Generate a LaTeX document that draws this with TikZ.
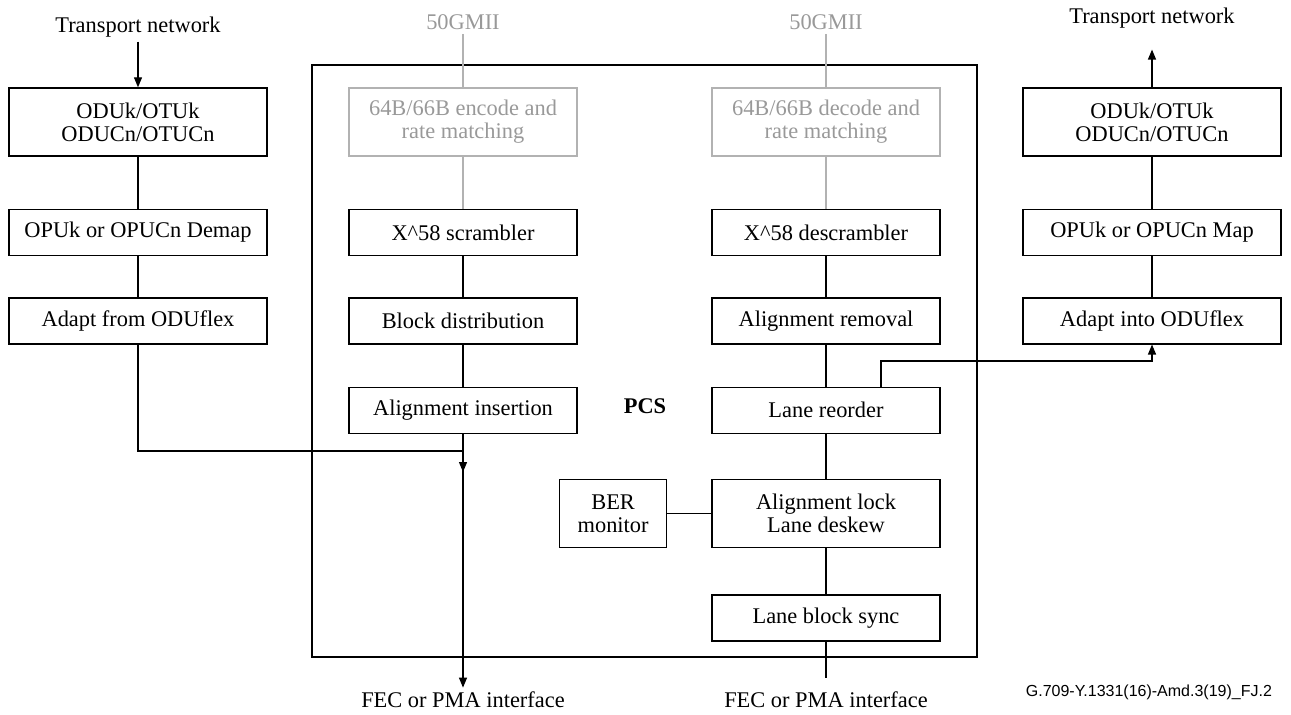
\documentclass[tikz,border=0pt]{standalone}
\usepackage{fontspec}
\setmainfont{Liberation Serif}
\newfontfamily\tagfont{Liberation Sans}
\usetikzlibrary{positioning,arrows.meta}

\begin{document}
\begin{tikzpicture}[
  x=0.5pt, y=-0.5pt,
  node distance=20.5pt,
  every node/.style={font=\fontsize{11.2}{11.5}\selectfont},
  box/.style={rectangle, draw, line width=0.7pt, minimum width=114pt,
              minimum height=23pt, align=center, inner sep=1pt},
  widebox/.style={box, minimum width=129pt},
  tallbox/.style={minimum height=34pt},
  greybox/.style={box, draw=black!30, text=black!40},
  lbl/.style={inner sep=2pt},
  link/.style={line width=0.6pt},
  greylink/.style={link, draw=black!30},
  arrow/.style={link, -{Triangle[length=5pt, width=4pt]}}
]
  \useasboundingbox (0,0) rectangle (1291,714);

  % PCS frame
  \node[draw, line width=0.7pt, minimum width=332.5pt, minimum height=296pt,
        inner sep=0pt] (pcs) at (644.5,361) {};
  \node[font=\fontsize{11.2}{11.5}\selectfont\bfseries] (pcslbl) at (645,406) {PCS};

  % left column
  \node[lbl] (tnl) at (138,27) {Transport network};
  \node[widebox, tallbox] (odul) at (138,122) {ODUk/OTUk\\ODUCn/OTUCn};
  \node[widebox, below=26pt of odul] (demap) {OPUk or OPUCn Demap};
  \node[widebox, below=of demap] (adaptl) {Adapt from ODUflex};

  % transmit side of the PCS
  \node[lbl, text=black!40] (gmiil) at (463,22) {50GMII};
  \node[greybox, tallbox] (enc) at (463,122) {64B/66B encode and\\rate matching};
  \node[box, below=26pt of enc] (scr) {X\textasciicircum{}58 scrambler};
  \node[box, below=of scr] (blk) {Block distribution};
  \node[box, below=21pt of blk] (ins) {Alignment insertion};
  \node[lbl] (fecl) at (463,700) {FEC or PMA interface};

  % receive side of the PCS
  \node[lbl, text=black!40] (gmiir) at (826,22) {50GMII};
  \node[greybox, tallbox] (dec) at (826,122) {64B/66B decode and\\rate matching};
  \node[box, below=26pt of dec] (dscr) {X\textasciicircum{}58 descrambler};
  \node[box, below=of dscr] (arm) {Alignment removal};
  \node[box, below=21pt of arm] (reo) {Lane reorder};
  \node[box, tallbox, below=22.5pt of reo] (lock) {Alignment lock\\Lane deskew};
  \node[box, below=23pt of lock] (sync) {Lane block sync};
  \node[box, tallbox, minimum width=53.5pt, left=22pt of lock] (ber) {BER\\monitor};
  \node[lbl] (fecr) at (826,700) {FEC or PMA interface};

  % right column
  \node[lbl] (tnr) at (1152,18) {Transport network};
  \node[widebox, tallbox] (odur) at (1152,122) {ODUk/OTUk\\ODUCn/OTUCn};
  \node[widebox, below=26pt of odur] (map) {OPUk or OPUCn Map};
  \node[widebox, below=of map] (adaptr) {Adapt into ODUflex};

  \node[font=\tagfont\fontsize{8}{9}\selectfont, anchor=east] (tag) at (1279,692)
    {G.709-Y.1331(16)-Amd.3(19)\_FJ.2};

  % connectors, left and transmit
  \draw[arrow] (tnl) -- (odul);
  \draw[link] (odul) -- (demap);
  \draw[link] (demap) -- (adaptl);
  \coordinate (merge) at (463,451);
  \coordinate (mergetip) at (463,472);
  \draw[arrow] (adaptl.south) |- (merge) -- (mergetip);
  \draw[greylink] (gmiil) -- (enc);
  \draw[greylink] (enc) -- (scr);
  \draw[link] (scr) -- (blk);
  \draw[link] (blk) -- (ins);
  \draw[arrow] (ins) -- (fecl);

  % connectors, receive and right
  \draw[greylink] (gmiir) -- (dec);
  \draw[greylink] (dec) -- (dscr);
  \draw[link] (dscr) -- (arm);
  \draw[link] (arm) -- (reo);
  \draw[link] (reo) -- (lock);
  \draw[link] (lock) -- (sync);
  \draw[link] (ber) -- (lock);
  \coordinate (rxend) at (826,678);
  \draw[link] (sync) -- (rxend);
  \coordinate (tap) at (881,361);
  \draw[arrow] ([xshift=27.5pt]reo.north) -- (tap) -| (adaptr.south);
  \draw[link] (adaptr) -- (map);
  \draw[link] (map) -- (odur);
  \draw[arrow, shorten >=8.5pt] (odur) -- (tnr);
\end{tikzpicture}
\end{document}
